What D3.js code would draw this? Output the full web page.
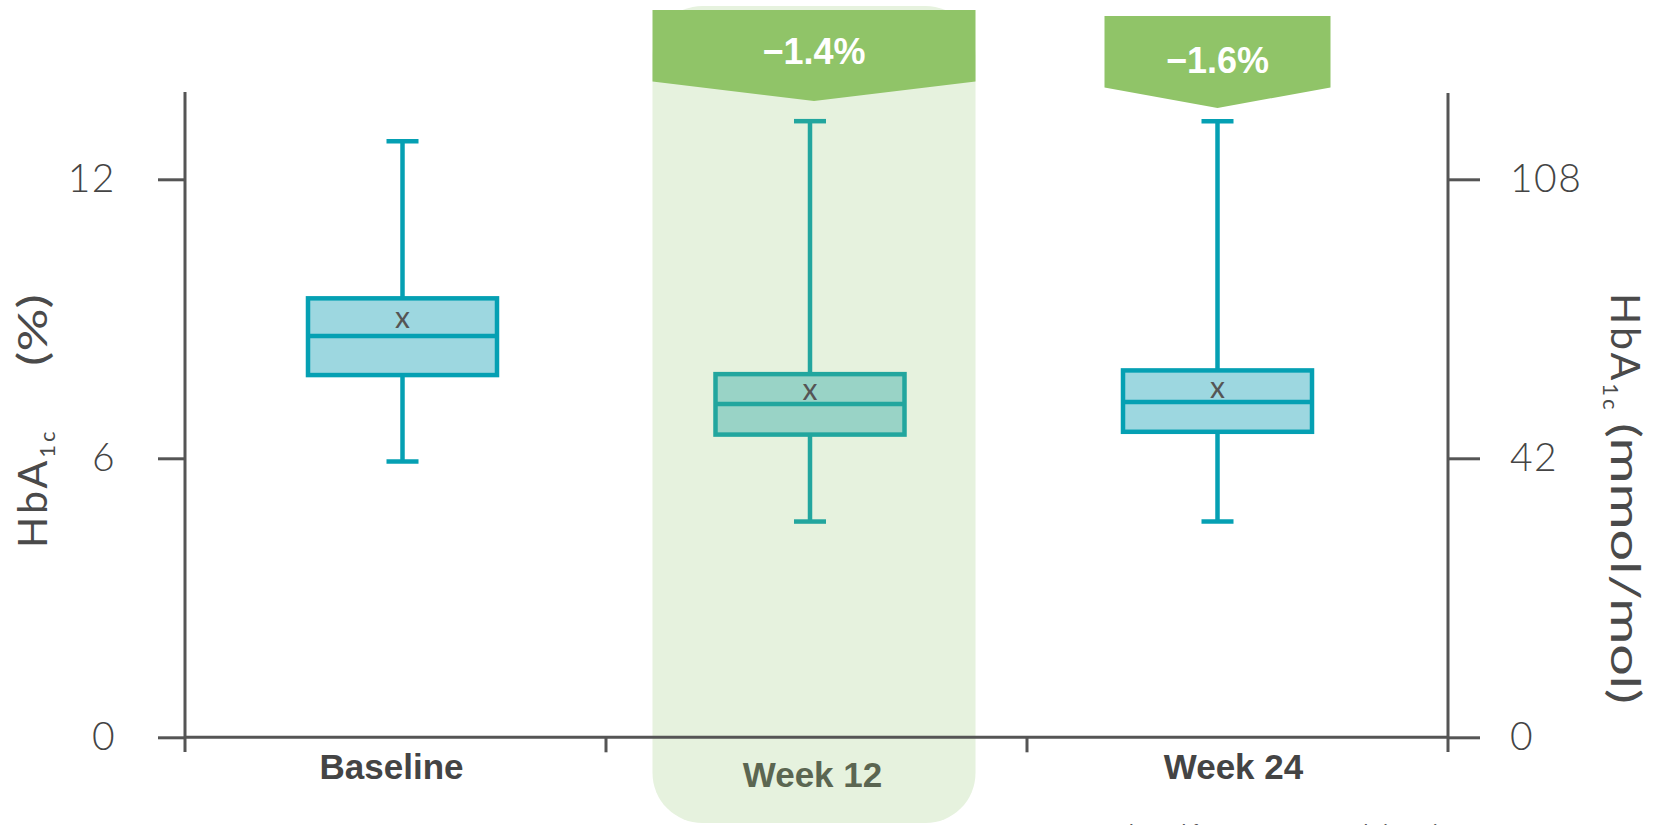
<!DOCTYPE html>
<html><head><meta charset="utf-8">
<script src="https://cdn.jsdelivr.net/npm/d3@7"></script>
<style>body{margin:0;background:#fff;} svg{display:block}</style>
</head><body><svg id="c" width="1653" height="825"></svg>
<script>
// ---- data ----
const categories = ["Baseline", "Week 12", "Week 24"];
const whiskerHigh = [12.82, 13.25, 13.25];
const q3 = [9.44, 7.81, 7.89];
const median = [8.63, 7.17, 7.21];
const q1 = [7.79, 6.51, 6.57];
const whiskerLow = [5.93, 4.64, 4.64];
const mean = [9.0, 7.45, 7.5];
const changeLabels = ["", "\u22121.4%", "\u22121.6%"];
const percentTicks = [0, 6, 12];
const mmolTicks = [0, 42, 108];
const footnote = "Adapted from Garg DD et al. (2014)";

// ---- layout ----
const svg = d3.select("#c");
const axisColor = "#555";
const y = d3.scaleLinear().domain([0, 12]).range([737.3, 179.3]);
const yR = d3.scaleLinear().domain([0, 42, 108]).range([y(0), y(6), y(12)]);
const xBand = d3.scaleBand().domain(categories).range([185, 1448]);
const xBox = d3.scalePoint().domain(categories).range([402.5, 1217.5]);
const boxW = 189, capW = 32;
const highlight = "Week 12";
const hlShift = 4;

const rows = categories.map((c, i) => ({
  cat: c, hi: whiskerHigh[i], q3: q3[i], med: median[i], q1: q1[i], lo: whiskerLow[i], mean: mean[i], change: changeLabels[i]
}));

// highlight shade
const shadeX = xBox(highlight) + hlShift - 161.5;
svg.append("rect").attr("x", shadeX).attr("y", 6).attr("width", 323).attr("height", 817)
  .attr("rx", 50).attr("ry", 50).attr("fill", "#e6f2de");

// banners
const bannerSpec = {"Week 12": {w: 323, top: 10, bot: 81.4, tip: 101, ty: 64, dx: hlShift},
                    "Week 24": {w: 226, top: 16, bot: 87.5, tip: 108, ty: 73, dx: 0}};
rows.filter(r => r.change).forEach(r => {
  const s = bannerSpec[r.cat], cx = xBox(r.cat) + s.dx;
  const x0 = cx - s.w / 2, x1 = cx + s.w / 2;
  svg.append("path").attr("d", `M${x0},${s.top}L${x1},${s.top}L${x1},${s.bot}L${cx},${s.tip}L${x0},${s.bot}Z`)
    .attr("fill", "#90c468");
  svg.append("text").attr("x", cx).attr("y", s.ty).attr("text-anchor", "middle")
    .attr("font-family", "'Liberation Sans', Arial, sans-serif").attr("font-weight", "bold")
    .attr("font-size", 36).attr("fill", "#fff").text(r.change);
});

// axes lines
svg.append("line").attr("x1", 185).attr("x2", 185).attr("y1", 92).attr("y2", 752)
  .attr("stroke", axisColor).attr("stroke-width", 3);
svg.append("line").attr("x1", 1448).attr("x2", 1448).attr("y1", 93).attr("y2", 752)
  .attr("stroke", axisColor).attr("stroke-width", 3);
svg.append("line").attr("x1", 185).attr("x2", 1448).attr("y1", y(0)).attr("y2", y(0))
  .attr("stroke", axisColor).attr("stroke-width", 3);

const tickFont = "Lato, 'Open Sans', sans-serif";
const gL = svg.append("g").attr("transform", "translate(185,0)")
  .call(d3.axisLeft(y).tickValues(percentTicks).tickSize(27).tickPadding(42).tickFormat(d3.format("d")));
const gR = svg.append("g").attr("transform", "translate(1448,0)")
  .call(d3.axisRight(yR).tickValues(mmolTicks).tickSize(32).tickPadding(30).tickFormat(d3.format("d")));
[gL, gR].forEach(g => {
  g.select(".domain").remove();
  g.selectAll(".tick line").attr("stroke", axisColor).attr("stroke-width", 3);
  g.selectAll(".tick text").attr("font-family", tickFont).attr("font-weight", 300)
    .attr("font-size", 39).attr("letter-spacing", 1.5).attr("fill", "#444");
});

// x ticks at band boundaries
const gX = svg.append("g").attr("transform", `translate(0,${y(0)})`);
categories.slice(1).forEach(c => {
  gX.append("line").attr("x1", xBand(c)).attr("x2", xBand(c)).attr("y1", 0).attr("y2", 15)
    .attr("stroke", axisColor).attr("stroke-width", 3);
});
categories.forEach(c => {
  const hl = c === highlight;
  gX.append("text").attr("x", xBand(c) + xBand.bandwidth() / 2 - 4).attr("y", hl ? 50 : 42)
    .attr("text-anchor", "middle").attr("font-family", "'Liberation Sans', Arial, sans-serif")
    .attr("font-weight", "bold").attr("font-size", 35).attr("fill", hl ? "#5b6651" : "#444").text(c);
});

// axis titles (wide geometric lettering approximated with stretched text)
const titleFont = "Lato, 'Open Sans', sans-serif";
function title(tf, main, sub, unit, unitTf, unitLen) {
  const t = svg.append("text").attr("transform", tf)
    .attr("font-family", titleFont).attr("font-weight", 400).attr("font-size", 41)
    .attr("letter-spacing", 3).attr("fill", "#4a4a4a");
  t.append("tspan").text(main);
  t.append("tspan").attr("font-size", 22).attr("dy", 8).text(sub);
  svg.append("text").attr("transform", unitTf)
    .attr("font-family", titleFont).attr("font-weight", 400).attr("font-size", 41)
    .attr("textLength", unitLen).attr("lengthAdjust", "spacingAndGlyphs")
    .attr("fill", "#4a4a4a").text(unit);
}
title("translate(47,548) rotate(-90)", "HbA", "1c", "(%)", "translate(47,366) rotate(-90)", 72);
title("translate(1611,293) rotate(90)", "HbA", "1c", "(mmol/mol)", "translate(1611,423) rotate(90)", 281);

// boxes
const boxes = svg.append("g").selectAll("g").data(rows).join("g");
boxes.each(function(d) {
  const g = d3.select(this), cx = xBox(d.cat), hl = d.cat === highlight;
  const stroke = hl ? "#22a69e" : "#05a0b3", fill = hl ? "#99d3c6" : "#9dd7e0";
  g.append("line").attr("x1", cx).attr("x2", cx).attr("y1", y(d.hi)).attr("y2", y(d.lo))
    .attr("stroke", stroke).attr("stroke-width", 4.5);
  [d.hi, d.lo].forEach(v => g.append("line").attr("x1", cx - capW / 2).attr("x2", cx + capW / 2)
    .attr("y1", y(v)).attr("y2", y(v)).attr("stroke", stroke).attr("stroke-width", 4.5));
  g.append("rect").attr("x", cx - boxW / 2).attr("y", y(d.q3)).attr("width", boxW)
    .attr("height", y(d.q1) - y(d.q3)).attr("fill", fill).attr("stroke", stroke).attr("stroke-width", 4.5);
  g.append("line").attr("x1", cx - boxW / 2).attr("x2", cx + boxW / 2).attr("y1", y(d.med)).attr("y2", y(d.med))
    .attr("stroke", stroke).attr("stroke-width", 4.5);
  g.append("text").attr("x", cx).attr("y", y(d.mean)).attr("dy", "0.32em").attr("text-anchor", "middle")
    .attr("font-family", titleFont).attr("font-weight", 400).attr("font-size", 30).attr("fill", "#555").text("x");
});

// footnote (cut off at the bottom edge, as in the source image)
svg.append("text").attr("x", 1108).attr("y", 839).attr("font-family", "'Liberation Sans', Arial, sans-serif")
  .attr("font-size", 21).attr("fill", "#555").text(footnote);
</script>
</body></html>
